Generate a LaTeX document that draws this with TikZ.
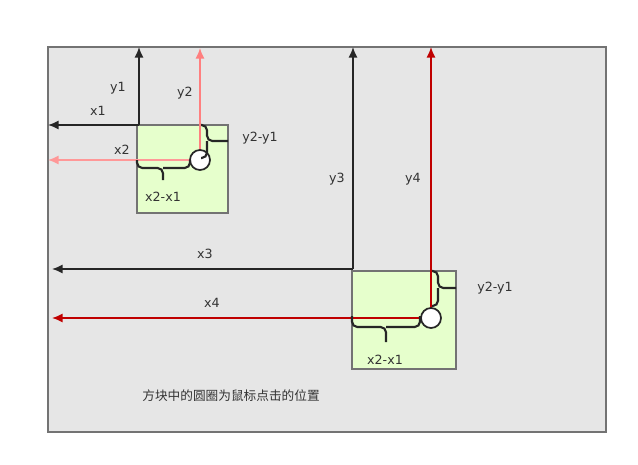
\documentclass[tikz,border=0pt]{standalone}
\usepackage{fontspec}
\setmainfont{DejaVu Sans}
\newfontfamily\cjk{Noto Sans CJK SC}
\usetikzlibrary{arrows.meta}
\definecolor{panel}{HTML}{E6E6E6}
\definecolor{boxfill}{HTML}{E6FFCC}
\definecolor{pink}{HTML}{FF7F7F}
\definecolor{darkred}{HTML}{C00000}
\begin{document}
\begin{tikzpicture}[x=0.75pt,y=-0.75pt,
    lbl/.style={font=\fontsize{9.5}{9.5}\selectfont,text=black!80},
    clickbox/.style={draw=black!55,line width=1.2pt,fill=boxfill},
    axis/.style={-{Latex[length=8pt,width=7pt]},line width=1.3pt},
    brc/.style={rounded corners=4pt,line width=1.6pt,draw=black!85}]
  \useasboundingbox (0,0) rectangle (638,464);
  % panel
  \draw[fill=panel,draw=black!55,line width=1.2pt] (48,47) rectangle (606,432);
  % boxes
  \draw[clickbox] (137,125) rectangle (228,213);
  \draw[clickbox] (352,271) rectangle (456,369);
  % click points
  \coordinate (p1) at (139,125);
  \coordinate (c1) at (200,160);
  \coordinate (p2) at (353,269);
  \coordinate (c2) at (431,318);
  \coordinate (t1) at (139,47);
  \coordinate (l1) at (48,125);
  \coordinate (t2) at (200,48);
  \coordinate (l2) at (48,160);
  \coordinate (t3) at (353,47);
  \coordinate (l3) at (52,269);
  \coordinate (t4) at (431,47);
  \coordinate (l4) at (52,318);
  % arrows
  \draw[axis,black!85] (p1) -- (t1);
  \draw[axis,black!85] (p1) -- (l1);
  \draw[axis,pink] (c1) -- (t2);
  \draw[axis,pink!80] (c1) -- (l2);
  \draw[axis,black!85] (p2) -- (t3);
  \draw[axis,black!85] (p2) -- (l3);
  \draw[axis,darkred] (c2) -- (t4);
  \draw[axis,darkred] (c2) -- (l4);
  % circles
  \node[circle,draw=black!85,fill=white,line width=1.3pt,minimum size=15pt,inner sep=0pt] (m1) at (c1) {};
  \node[circle,draw=black!85,fill=white,line width=1.3pt,minimum size=15pt,inner sep=0pt] (m2) at (c2) {};
  % braces
  \draw[brc] (201,125) -| (207,141) -- (228,141);
  \draw[brc] (207,141) |- (201,158);
  \draw[brc] (137,160) |- (163,168) -- (163,180);
  \draw[brc] (163,168) -| (190,160);
  \draw[brc] (432,271) -| (438,288) -- (456,288);
  \draw[brc] (438,288) |- (432,306);
  \draw[brc] (352,316) |- (386,327) -- (386,342);
  \draw[brc] (386,327) -| (420,316);
  % labels
  \node[lbl] at (118,88) {y1};
  \node[lbl] at (185,93) {y2};
  \node[lbl] at (98,111) {x1};
  \node[lbl] at (122,150) {x2};
  \node[lbl] at (260,138) {y2-y1};
  \node[lbl] at (163,197) {x2-x1};
  \node[lbl] at (337,179) {y3};
  \node[lbl] at (413,179) {y4};
  \node[lbl] at (205,254) {x3};
  \node[lbl] at (212,303) {x4};
  \node[lbl] at (495,288) {y2-y1};
  \node[lbl] at (385,360) {x2-x1};
  \node[lbl] at (231,396) {\cjk 方块中的圆圈为鼠标点击的位置};
\end{tikzpicture}
\end{document}
